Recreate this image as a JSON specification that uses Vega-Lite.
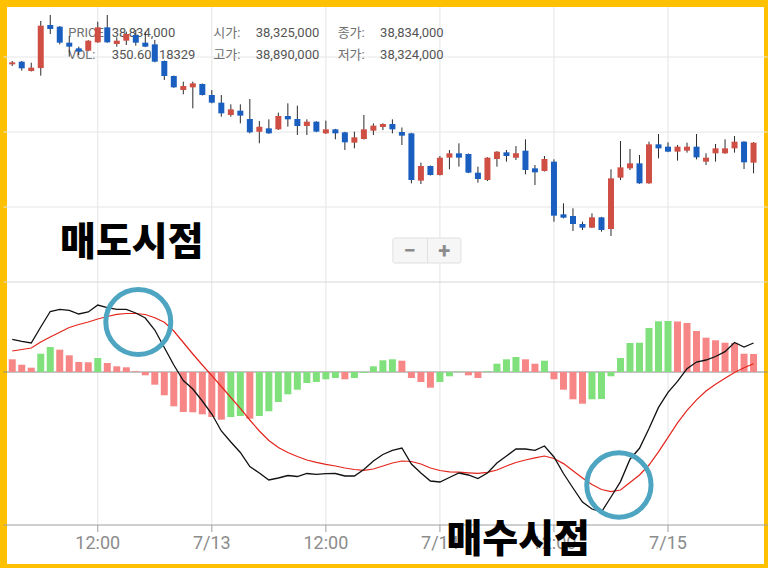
{
"$schema": "https://vega.github.io/schema/vega-lite/v6.json",
"width": 764, "height": 564, "autosize": "none",
"padding": {"left": 3.5, "top": 3.5, "right": 0, "bottom": 0},
"background": "white",
"config": {"view": {"stroke": "#FFC000", "strokeWidth": 7, "fill": "white"}, "font": "Roboto"},
"datasets": {
"vgrid": [{"t":"2021-07-12T12:00","label":"12:00"},{"t":"2021-07-13T00:00","label":"7/13"},{"t":"2021-07-13T12:00","label":"12:00"},{"t":"2021-07-14T00:00","label":"7/14"},{"t":"2021-07-14T12:00","label":"12:00"},{"t":"2021-07-15T00:00","label":"7/15"}],
"hgrid": [{"p":38458000},{"p":37558000},{"p":36658000}],
"hourly": [
{"t":"2021-07-12T03:00","o":38370000,"h":38410000,"l":38350000,"c":38394000,"macd":32700,"signal":21000,"hist":12700},
{"t":"2021-07-12T04:00","o":38402000,"h":38410000,"l":38294000,"c":38322000,"macd":30600,"signal":22500,"hist":7300},
{"t":"2021-07-12T05:00","o":38290000,"h":38390000,"l":38284000,"c":38330000,"macd":29000,"signal":24000,"hist":4300},
{"t":"2021-07-12T06:00","o":38325000,"h":38890000,"l":38234000,"c":38834000,"macd":45000,"signal":30000,"hist":18300},
{"t":"2021-07-12T07:00","o":38842000,"h":38962000,"l":38734000,"c":38794000,"macd":60500,"signal":35000,"hist":25000},
{"t":"2021-07-12T08:00","o":38822000,"h":38830000,"l":38610000,"c":38630000,"macd":62700,"signal":39700,"hist":22300},
{"t":"2021-07-12T09:00","o":38630000,"h":38710000,"l":38462000,"c":38582000,"macd":61700,"signal":44500,"hist":16700},
{"t":"2021-07-12T10:00","o":38562000,"h":38582000,"l":38482000,"c":38522000,"macd":58000,"signal":47500,"hist":10000},
{"t":"2021-07-12T11:00","o":38534000,"h":38660000,"l":38528000,"c":38654000,"macd":60000,"signal":50000,"hist":9700},
{"t":"2021-07-12T12:00","o":38634000,"h":38882000,"l":38628000,"c":38814000,"macd":67000,"signal":53000,"hist":14000},
{"t":"2021-07-12T13:00","o":38814000,"h":38962000,"l":38628000,"c":38634000,"macd":64300,"signal":55500,"hist":9000},
{"t":"2021-07-12T14:00","o":38614000,"h":38694000,"l":38582000,"c":38654000,"macd":62700,"signal":57700,"hist":5700},
{"t":"2021-07-12T15:00","o":38654000,"h":38762000,"l":38602000,"c":38734000,"macd":62700,"signal":58500,"hist":4700},
{"t":"2021-07-12T16:00","o":38722000,"h":38782000,"l":38594000,"c":38630000,"macd":59000,"signal":58500,"hist":700},
{"t":"2021-07-12T17:00","o":38630000,"h":38762000,"l":38576000,"c":38582000,"macd":54000,"signal":57500,"hist":-3300},
{"t":"2021-07-12T18:00","o":38610000,"h":38662000,"l":38394000,"c":38402000,"macd":42000,"signal":54200,"hist":-12700},
{"t":"2021-07-12T19:00","o":38410000,"h":38416000,"l":38182000,"c":38230000,"macd":24500,"signal":49700,"hist":-23300},
{"t":"2021-07-12T20:00","o":38230000,"h":38236000,"l":38088000,"c":38094000,"macd":7000,"signal":41000,"hist":-34300},
{"t":"2021-07-12T21:00","o":38062000,"h":38162000,"l":38010000,"c":38110000,"macd":-8500,"signal":29500,"hist":-40000},
{"t":"2021-07-12T22:00","o":38094000,"h":38162000,"l":37842000,"c":38142000,"macd":-17000,"signal":18000,"hist":-40300},
{"t":"2021-07-12T23:00","o":38134000,"h":38140000,"l":37996000,"c":38002000,"macd":-29000,"signal":7000,"hist":-42300},
{"t":"2021-07-13T00:00","o":38002000,"h":38062000,"l":37902000,"c":37910000,"macd":-42000,"signal":-3700,"hist":-45000},
{"t":"2021-07-13T01:00","o":37910000,"h":38002000,"l":37742000,"c":37782000,"macd":-59000,"signal":-14500,"hist":-47700},
{"t":"2021-07-13T02:00","o":37762000,"h":37890000,"l":37742000,"c":37830000,"macd":-70000,"signal":-25500,"hist":-45000},
{"t":"2021-07-13T03:00","o":37814000,"h":37890000,"l":37662000,"c":37754000,"macd":-80500,"signal":-36300,"hist":-44000},
{"t":"2021-07-13T04:00","o":37714000,"h":37954000,"l":37542000,"c":37554000,"macd":-94500,"signal":-48000,"hist":-46700},
{"t":"2021-07-13T05:00","o":37562000,"h":37690000,"l":37422000,"c":37622000,"macd":-101000,"signal":-59000,"hist":-44000},
{"t":"2021-07-13T06:00","o":37602000,"h":37710000,"l":37536000,"c":37542000,"macd":-108000,"signal":-68500,"hist":-39300},
{"t":"2021-07-13T07:00","o":37590000,"h":37790000,"l":37582000,"c":37750000,"macd":-106000,"signal":-75500,"hist":-30000},
{"t":"2021-07-13T08:00","o":37750000,"h":37902000,"l":37622000,"c":37710000,"macd":-103500,"signal":-80500,"hist":-22300},
{"t":"2021-07-13T09:00","o":37714000,"h":37874000,"l":37522000,"c":37630000,"macd":-104500,"signal":-84500,"hist":-17700},
{"t":"2021-07-13T10:00","o":37630000,"h":37710000,"l":37522000,"c":37682000,"macd":-101500,"signal":-88000,"hist":-11000},
{"t":"2021-07-13T11:00","o":37682000,"h":37688000,"l":37556000,"c":37562000,"macd":-102300,"signal":-90300,"hist":-10000},
{"t":"2021-07-13T12:00","o":37542000,"h":37694000,"l":37536000,"c":37590000,"macd":-101700,"signal":-92300,"hist":-7300},
{"t":"2021-07-13T13:00","o":37590000,"h":37596000,"l":37470000,"c":37542000,"macd":-101500,"signal":-94000,"hist":-6000},
{"t":"2021-07-13T14:00","o":37554000,"h":37560000,"l":37342000,"c":37434000,"macd":-104000,"signal":-96000,"hist":-7300},
{"t":"2021-07-13T15:00","o":37430000,"h":37562000,"l":37362000,"c":37494000,"macd":-104000,"signal":-97500,"hist":-6000},
{"t":"2021-07-13T16:00","o":37474000,"h":37762000,"l":37468000,"c":37590000,"macd":-97500,"signal":-98300,"hist":-1000},
{"t":"2021-07-13T17:00","o":37574000,"h":37662000,"l":37522000,"c":37634000,"macd":-89000,"signal":-97000,"hist":5700},
{"t":"2021-07-13T18:00","o":37618000,"h":37662000,"l":37582000,"c":37654000,"macd":-82500,"signal":-94000,"hist":11700},
{"t":"2021-07-13T19:00","o":37654000,"h":37710000,"l":37542000,"c":37590000,"macd":-78300,"signal":-91000,"hist":12700},
{"t":"2021-07-13T20:00","o":37558000,"h":37612000,"l":37402000,"c":37514000,"macd":-76000,"signal":-89000,"hist":11300},
{"t":"2021-07-13T21:00","o":37542000,"h":37548000,"l":36942000,"c":36982000,"macd":-92000,"signal":-89500,"hist":-6000},
{"t":"2021-07-13T22:00","o":36974000,"h":37190000,"l":36934000,"c":37150000,"macd":-101000,"signal":-92000,"hist":-10000},
{"t":"2021-07-13T23:00","o":37150000,"h":37156000,"l":37036000,"c":37042000,"macd":-109000,"signal":-96000,"hist":-15700},
{"t":"2021-07-14T00:00","o":37042000,"h":37270000,"l":37036000,"c":37250000,"macd":-110000,"signal":-98500,"hist":-10000},
{"t":"2021-07-14T01:00","o":37250000,"h":37342000,"l":37110000,"c":37302000,"macd":-105500,"signal":-99800,"hist":-4300},
{"t":"2021-07-14T02:00","o":37302000,"h":37422000,"l":37142000,"c":37250000,"macd":-101000,"signal":-100200,"hist":500},
{"t":"2021-07-14T03:00","o":37294000,"h":37300000,"l":37064000,"c":37070000,"macd":-103000,"signal":-100800,"hist":-3300},
{"t":"2021-07-14T04:00","o":37070000,"h":37142000,"l":36950000,"c":36994000,"macd":-106500,"signal":-101300,"hist":-6000},
{"t":"2021-07-14T05:00","o":36982000,"h":37256000,"l":36970000,"c":37250000,"macd":-101000,"signal":-100300,"hist":700},
{"t":"2021-07-14T06:00","o":37234000,"h":37328000,"l":37142000,"c":37322000,"macd":-91000,"signal":-98000,"hist":8300},
{"t":"2021-07-14T07:00","o":37314000,"h":37342000,"l":37202000,"c":37270000,"macd":-84000,"signal":-94000,"hist":12700},
{"t":"2021-07-14T08:00","o":37250000,"h":37390000,"l":37222000,"c":37302000,"macd":-77000,"signal":-90500,"hist":15000},
{"t":"2021-07-14T09:00","o":37334000,"h":37470000,"l":37050000,"c":37102000,"macd":-77000,"signal":-88000,"hist":12700},
{"t":"2021-07-14T10:00","o":37122000,"h":37162000,"l":36922000,"c":37074000,"macd":-78300,"signal":-85800,"hist":8300},
{"t":"2021-07-14T11:00","o":37090000,"h":37270000,"l":37084000,"c":37234000,"macd":-74000,"signal":-84000,"hist":11300},
{"t":"2021-07-14T12:00","o":37202000,"h":37230000,"l":36482000,"c":36554000,"macd":-85000,"signal":-86500,"hist":-7300},
{"t":"2021-07-14T13:00","o":36570000,"h":36702000,"l":36522000,"c":36530000,"macd":-101500,"signal":-91600,"hist":-17700},
{"t":"2021-07-14T14:00","o":36550000,"h":36642000,"l":36370000,"c":36454000,"macd":-116000,"signal":-98700,"hist":-27300},
{"t":"2021-07-14T15:00","o":36454000,"h":36482000,"l":36382000,"c":36410000,"macd":-130000,"signal":-106000,"hist":-31700},
{"t":"2021-07-14T16:00","o":36410000,"h":36582000,"l":36404000,"c":36534000,"macd":-137000,"signal":-112500,"hist":-27300},
{"t":"2021-07-14T17:00","o":36534000,"h":36540000,"l":36362000,"c":36382000,"macd":-140000,"signal":-117500,"hist":-27000},
{"t":"2021-07-14T18:00","o":36394000,"h":37110000,"l":36310000,"c":37002000,"macd":-125000,"signal":-119700,"hist":-4300},
{"t":"2021-07-14T19:00","o":37010000,"h":37450000,"l":36982000,"c":37134000,"macd":-109600,"signal":-118000,"hist":14000},
{"t":"2021-07-14T20:00","o":37122000,"h":37354000,"l":37102000,"c":37182000,"macd":-87200,"signal":-110500,"hist":29000},
{"t":"2021-07-14T21:00","o":37182000,"h":37282000,"l":36936000,"c":36942000,"macd":-76300,"signal":-103000,"hist":29300},
{"t":"2021-07-14T22:00","o":36942000,"h":37442000,"l":36936000,"c":37410000,"macd":-56600,"signal":-93000,"hist":44000},
{"t":"2021-07-14T23:00","o":37410000,"h":37534000,"l":37242000,"c":37362000,"macd":-35400,"signal":-79800,"hist":50700},
{"t":"2021-07-15T00:00","o":37382000,"h":37434000,"l":37316000,"c":37322000,"macd":-20300,"signal":-65300,"hist":51000},
{"t":"2021-07-15T01:00","o":37322000,"h":37402000,"l":37214000,"c":37382000,"macd":-9400,"signal":-50800,"hist":50500},
{"t":"2021-07-15T02:00","o":37334000,"h":37430000,"l":37310000,"c":37382000,"macd":3400,"signal":-38300,"hist":49000},
{"t":"2021-07-15T03:00","o":37382000,"h":37534000,"l":37230000,"c":37254000,"macd":10000,"signal":-27800,"hist":41000},
{"t":"2021-07-15T04:00","o":37202000,"h":37302000,"l":37162000,"c":37250000,"macd":12000,"signal":-19000,"hist":34300},
{"t":"2021-07-15T05:00","o":37302000,"h":37414000,"l":37202000,"c":37362000,"macd":15500,"signal":-12300,"hist":31700},
{"t":"2021-07-15T06:00","o":37302000,"h":37470000,"l":37296000,"c":37362000,"macd":20300,"signal":-6300,"hist":29300},
{"t":"2021-07-15T07:00","o":37362000,"h":37510000,"l":37310000,"c":37442000,"macd":29500,"signal":-500,"hist":29000},
{"t":"2021-07-15T08:00","o":37442000,"h":37448000,"l":37114000,"c":37194000,"macd":25000,"signal":4200,"hist":18300},
{"t":"2021-07-15T09:00","o":37190000,"h":37436000,"l":37062000,"c":37430000,"macd":29000,"signal":8300,"hist":18000}
]
},
"resolve": {"scale": {"y": "independent"}},
"layer": [
{"layer": [
 {"data": {"name": "vgrid"}, "mark": {"type": "rule", "color": "#e4e4e4", "strokeWidth": 1},
  "encoding": {
   "x": {"field": "t", "type": "temporal", "scale": {"domain": [{"year":2021,"month":7,"date":12,"hours":2,"minutes":36,"seconds":24},{"year":2021,"month":7,"date":15,"hours":9,"minutes":56,"seconds":30}]}, "axis": null},
   "y": {"datum": 365000, "type": "quantitative", "scale": {"domain": [-153000, 90000], "range": [521.5, 278.5], "zero": false}, "axis": null},
   "y2": {"datum": -153000}}},
 {"data": {"name": "vgrid"}, "mark": {"type": "rule", "color": "#9e9e9e", "strokeWidth": 1},
  "encoding": {
   "x": {"field": "t", "type": "temporal", "scale": {"domain": [{"year":2021,"month":7,"date":12,"hours":2,"minutes":36,"seconds":24},{"year":2021,"month":7,"date":15,"hours":9,"minutes":56,"seconds":30}]}, "axis": null},
   "y": {"datum": -153000, "type": "quantitative", "scale": {"domain": [-153000, 90000], "range": [521.5, 278.5], "zero": false}, "axis": null},
   "y2": {"datum": -160000}}},
 {"data": {"name": "vgrid"}, "mark": {"type": "text", "align": "center", "baseline": "top", "font": "Liberation Sans Narrow, Roboto", "fontSize": 18, "color": "#8c8c8c"},
  "encoding": {
   "x": {"field": "t", "type": "temporal", "scale": {"domain": [{"year":2021,"month":7,"date":12,"hours":2,"minutes":36,"seconds":24},{"year":2021,"month":7,"date":15,"hours":9,"minutes":56,"seconds":30}]}, "axis": null},
   "y": {"datum": -163400, "type": "quantitative", "scale": {"domain": [-153000, 90000], "range": [521.5, 278.5], "zero": false}, "axis": null},
   "text": {"field": "label", "type": "nominal"}}},
 {"data": {"values": [{}]}, "mark": {"type": "rule", "color": "#9e9e9e"},
  "encoding": {"y": {"datum": -153000, "type": "quantitative", "scale": {"domain": [-153000, 90000], "range": [521.5, 278.5], "zero": false}, "axis": null}}},
 {"data": {"values": [{}]}, "mark": {"type": "rule", "color": "#d6d6d6"},
  "encoding": {"y": {"datum": 90000, "type": "quantitative", "scale": {"domain": [-153000, 90000], "range": [521.5, 278.5], "zero": false}, "axis": null}}},
 {"data": {"values": [{}]}, "mark": {"type": "rule", "color": "#8a8a8a"},
  "encoding": {"y": {"datum": 0, "type": "quantitative", "scale": {"domain": [-153000, 90000], "range": [521.5, 278.5], "zero": false}, "axis": null}}},
 {"data": {"name": "hourly"},
  "transform": [{"window": [{"op": "lag", "field": "hist", "as": "prev"}], "sort": [{"field": "t"}]}],
  "mark": {"type": "bar", "size": 7},
  "encoding": {
   "x": {"field": "t", "type": "temporal", "scale": {"domain": [{"year":2021,"month":7,"date":12,"hours":2,"minutes":36,"seconds":24},{"year":2021,"month":7,"date":15,"hours":9,"minutes":56,"seconds":30}]}, "axis": null},
   "y": {"field": "hist", "type": "quantitative", "scale": {"domain": [-153000, 90000], "range": [521.5, 278.5], "zero": false}, "axis": null},
   "y2": {"datum": 0},
   "color": {"condition": {"test": "datum.prev != null && datum.hist >= datum.prev", "value": "#80e07c"}, "value": "#f78787"}}},
 {"data": {"name": "hourly"}, "mark": {"type": "line", "color": "#e3251c", "strokeWidth": 1.2},
  "encoding": {
   "x": {"field": "t", "type": "temporal", "scale": {"domain": [{"year":2021,"month":7,"date":12,"hours":2,"minutes":36,"seconds":24},{"year":2021,"month":7,"date":15,"hours":9,"minutes":56,"seconds":30}]}, "axis": null},
   "y": {"field": "signal", "type": "quantitative", "scale": {"domain": [-153000, 90000], "range": [521.5, 278.5], "zero": false}, "axis": null}}},
 {"data": {"name": "hourly"}, "mark": {"type": "line", "color": "#111111", "strokeWidth": 1.3},
  "encoding": {
   "x": {"field": "t", "type": "temporal", "scale": {"domain": [{"year":2021,"month":7,"date":12,"hours":2,"minutes":36,"seconds":24},{"year":2021,"month":7,"date":15,"hours":9,"minutes":56,"seconds":30}]}, "axis": null},
   "y": {"field": "macd", "type": "quantitative", "scale": {"domain": [-153000, 90000], "range": [521.5, 278.5], "zero": false}, "axis": null}}},
 {"data": {"values": [{}]}, "mark": {"type": "point", "shape": "circle", "filled": false, "size": 4225, "strokeWidth": 5, "color": "#4ea5c2", "opacity": 1},
  "encoding": {
   "x": {"datum": {"year":2021,"month":7,"date":12,"hours":16,"minutes":15,"seconds":43}, "type": "temporal", "scale": {"domain": [{"year":2021,"month":7,"date":12,"hours":2,"minutes":36,"seconds":24},{"year":2021,"month":7,"date":15,"hours":9,"minutes":56,"seconds":30}]}, "axis": null},
   "y": {"datum": 50000, "type": "quantitative", "scale": {"domain": [-153000, 90000], "range": [521.5, 278.5], "zero": false}, "axis": null}}},
 {"data": {"values": [{}]}, "mark": {"type": "point", "shape": "circle", "filled": false, "size": 4134, "strokeWidth": 5, "color": "#4ea5c2", "opacity": 1},
  "encoding": {
   "x": {"datum": {"year":2021,"month":7,"date":14,"hours":18,"minutes":50}, "type": "temporal", "scale": {"domain": [{"year":2021,"month":7,"date":12,"hours":2,"minutes":36,"seconds":24},{"year":2021,"month":7,"date":15,"hours":9,"minutes":56,"seconds":30}]}, "axis": null},
   "y": {"datum": -113000, "type": "quantitative", "scale": {"domain": [-153000, 90000], "range": [521.5, 278.5], "zero": false}, "axis": null}}},
 {"data": {"values": [{}]}, "mark": {"type": "text", "text": "매수시점", "font": "Noto Sans CJK KR", "fontSize": 39, "fontWeight": 900, "color": "#000000", "align": "center", "baseline": "middle"},
  "encoding": {
   "x": {"datum": {"year":2021,"month":7,"date":14,"hours":8,"minutes":14,"seconds":28}, "type": "temporal", "scale": {"domain": [{"year":2021,"month":7,"date":12,"hours":2,"minutes":36,"seconds":24},{"year":2021,"month":7,"date":15,"hours":9,"minutes":56,"seconds":30}]}, "axis": null},
   "y": {"datum": -168300, "type": "quantitative", "scale": {"domain": [-153000, 90000], "range": [521.5, 278.5], "zero": false}, "axis": null}}}
]},
{"layer": [
 {"data": {"name": "hgrid"}, "mark": {"type": "rule", "color": "#e6e6e6", "strokeWidth": 1},
  "encoding": {
   "y": {"field": "p", "type": "quantitative", "scale": {"domain": [35758000, 39100000], "range": [278.5, 0], "zero": false}, "axis": null}}},
 {"data": {"values": [{}]}, "mark": {"type": "text", "text": ["PRICE", "VOL:"], "align": "left", "baseline": "top", "lineHeight": 22, "fontSize": 13, "font": "Roboto, Noto Sans CJK KR", "color": "#707070"},
  "encoding": {
   "x": {"datum": {"year":2021,"month":7,"date":12,"hours":8,"minutes":53,"seconds":20}, "type": "temporal", "scale": {"domain": [{"year":2021,"month":7,"date":12,"hours":2,"minutes":36,"seconds":24},{"year":2021,"month":7,"date":15,"hours":9,"minutes":56,"seconds":30}]}, "axis": null},
   "y": {"datum": 38814000, "type": "quantitative", "scale": {"domain": [35758000, 39100000], "range": [278.5, 0], "zero": false}, "axis": null}}},
 {"data": {"values": [{}]}, "mark": {"type": "text", "text": ["38,834,000", "350.60118329"], "align": "left", "baseline": "top", "lineHeight": 22, "fontSize": 13, "font": "Roboto, Noto Sans CJK KR", "color": "#555555"},
  "encoding": {
   "x": {"datum": {"year":2021,"month":7,"date":12,"hours":13,"minutes":27,"seconds":30}, "type": "temporal", "scale": {"domain": [{"year":2021,"month":7,"date":12,"hours":2,"minutes":36,"seconds":24},{"year":2021,"month":7,"date":15,"hours":9,"minutes":56,"seconds":30}]}, "axis": null},
   "y": {"datum": 38814000, "type": "quantitative", "scale": {"domain": [35758000, 39100000], "range": [278.5, 0], "zero": false}, "axis": null}}},
 {"data": {"values": [{}]}, "mark": {"type": "text", "text": ["시가:", "고가:"], "align": "left", "baseline": "top", "lineHeight": 22, "fontSize": 13, "font": "Roboto, Noto Sans CJK KR", "color": "#707070"},
  "encoding": {
   "x": {"datum": {"year":2021,"month":7,"date":13,"hours":0,"minutes":9,"seconds":14}, "type": "temporal", "scale": {"domain": [{"year":2021,"month":7,"date":12,"hours":2,"minutes":36,"seconds":24},{"year":2021,"month":7,"date":15,"hours":9,"minutes":56,"seconds":30}]}, "axis": null},
   "y": {"datum": 38814000, "type": "quantitative", "scale": {"domain": [35758000, 39100000], "range": [278.5, 0], "zero": false}, "axis": null}}},
 {"data": {"values": [{}]}, "mark": {"type": "text", "text": ["38,325,000", "38,890,000"], "align": "left", "baseline": "top", "lineHeight": 22, "fontSize": 13, "font": "Roboto, Noto Sans CJK KR", "color": "#555555"},
  "encoding": {
   "x": {"datum": {"year":2021,"month":7,"date":13,"hours":4,"minutes":37,"seconds":8}, "type": "temporal", "scale": {"domain": [{"year":2021,"month":7,"date":12,"hours":2,"minutes":36,"seconds":24},{"year":2021,"month":7,"date":15,"hours":9,"minutes":56,"seconds":30}]}, "axis": null},
   "y": {"datum": 38814000, "type": "quantitative", "scale": {"domain": [35758000, 39100000], "range": [278.5, 0], "zero": false}, "axis": null}}},
 {"data": {"values": [{}]}, "mark": {"type": "text", "text": ["종가:", "저가:"], "align": "left", "baseline": "top", "lineHeight": 22, "fontSize": 13, "font": "Roboto, Noto Sans CJK KR", "color": "#707070"},
  "encoding": {
   "x": {"datum": {"year":2021,"month":7,"date":13,"hours":13,"minutes":14,"seconds":17}, "type": "temporal", "scale": {"domain": [{"year":2021,"month":7,"date":12,"hours":2,"minutes":36,"seconds":24},{"year":2021,"month":7,"date":15,"hours":9,"minutes":56,"seconds":30}]}, "axis": null},
   "y": {"datum": 38814000, "type": "quantitative", "scale": {"domain": [35758000, 39100000], "range": [278.5, 0], "zero": false}, "axis": null}}},
 {"data": {"values": [{}]}, "mark": {"type": "text", "text": ["38,834,000", "38,324,000"], "align": "left", "baseline": "top", "lineHeight": 22, "fontSize": 13, "font": "Roboto, Noto Sans CJK KR", "color": "#555555"},
  "encoding": {
   "x": {"datum": {"year":2021,"month":7,"date":13,"hours":17,"minutes":42,"seconds":11}, "type": "temporal", "scale": {"domain": [{"year":2021,"month":7,"date":12,"hours":2,"minutes":36,"seconds":24},{"year":2021,"month":7,"date":15,"hours":9,"minutes":56,"seconds":30}]}, "axis": null},
   "y": {"datum": 38814000, "type": "quantitative", "scale": {"domain": [35758000, 39100000], "range": [278.5, 0], "zero": false}, "axis": null}}},
 {"data": {"name": "hourly"}, "mark": {"type": "rule", "color": "#2b2b2b", "strokeWidth": 1},
  "encoding": {
   "x": {"field": "t", "type": "temporal", "scale": {"domain": [{"year":2021,"month":7,"date":12,"hours":2,"minutes":36,"seconds":24},{"year":2021,"month":7,"date":15,"hours":9,"minutes":56,"seconds":30}]}, "axis": null},
   "y": {"field": "l", "type": "quantitative", "scale": {"domain": [35758000, 39100000], "range": [278.5, 0], "zero": false}, "axis": null},
   "y2": {"field": "h"}}},
 {"data": {"name": "hourly"}, "mark": {"type": "bar", "size": 6},
  "encoding": {
   "x": {"field": "t", "type": "temporal", "scale": {"domain": [{"year":2021,"month":7,"date":12,"hours":2,"minutes":36,"seconds":24},{"year":2021,"month":7,"date":15,"hours":9,"minutes":56,"seconds":30}]}, "axis": null},
   "y": {"field": "o", "type": "quantitative", "scale": {"domain": [35758000, 39100000], "range": [278.5, 0], "zero": false}, "axis": null},
   "y2": {"field": "c"},
   "color": {"condition": {"test": "datum.c >= datum.o", "value": "#d04f45"}, "value": "#1a5fc0"}}},
 {"data": {"values": [{}]}, "mark": {"type": "text", "text": "매도시점", "font": "Noto Sans CJK KR", "fontSize": 39, "fontWeight": 900, "color": "#000000", "align": "center", "baseline": "middle"},
  "encoding": {
   "x": {"datum": {"year":2021,"month":7,"date":12,"hours":15,"minutes":35,"seconds":12}, "type": "temporal", "scale": {"domain": [{"year":2021,"month":7,"date":12,"hours":2,"minutes":36,"seconds":24},{"year":2021,"month":7,"date":15,"hours":9,"minutes":56,"seconds":30}]}, "axis": null},
   "y": {"datum": 36230000, "type": "quantitative", "scale": {"domain": [35758000, 39100000], "range": [278.5, 0], "zero": false}, "axis": null}}},
 {"data": {"values": [{}]}, "mark": {"type": "rect", "fill": "#f6f6f6", "stroke": "#e0e0e0", "strokeWidth": 1, "cornerRadius": 2},
  "encoding": {
   "x": {"datum": {"year":2021,"month":7,"date":13,"hours":19,"minutes":3,"seconds":11}, "type": "temporal", "scale": {"domain": [{"year":2021,"month":7,"date":12,"hours":2,"minutes":36,"seconds":24},{"year":2021,"month":7,"date":15,"hours":9,"minutes":56,"seconds":30}]}, "axis": null},
   "x2": {"datum": {"year":2021,"month":7,"date":14,"hours":2,"minutes":13,"seconds":5}},
   "y": {"datum": 36286000, "type": "quantitative", "scale": {"domain": [35758000, 39100000], "range": [278.5, 0], "zero": false}, "axis": null},
   "y2": {"datum": 35986000}}},
 {"data": {"values": [{}]}, "mark": {"type": "rule", "color": "#e0e0e0"},
  "encoding": {
   "x": {"datum": {"year":2021,"month":7,"date":13,"hours":22,"minutes":41,"seconds":13}, "type": "temporal", "scale": {"domain": [{"year":2021,"month":7,"date":12,"hours":2,"minutes":36,"seconds":24},{"year":2021,"month":7,"date":15,"hours":9,"minutes":56,"seconds":30}]}, "axis": null},
   "y": {"datum": 36286000, "type": "quantitative", "scale": {"domain": [35758000, 39100000], "range": [278.5, 0], "zero": false}, "axis": null},
   "y2": {"datum": 35986000}}},
 {"data": {"values": [{}]}, "mark": {"type": "text", "text": "−", "font": "Roboto", "fontSize": 22, "fontWeight": "bold", "color": "#8c8c8c", "align": "center", "baseline": "middle"},
  "encoding": {
   "x": {"datum": {"year":2021,"month":7,"date":13,"hours":20,"minutes":49,"seconds":5}, "type": "temporal", "scale": {"domain": [{"year":2021,"month":7,"date":12,"hours":2,"minutes":36,"seconds":24},{"year":2021,"month":7,"date":15,"hours":9,"minutes":56,"seconds":30}]}, "axis": null},
   "y": {"datum": 36128000, "type": "quantitative", "scale": {"domain": [35758000, 39100000], "range": [278.5, 0], "zero": false}, "axis": null}}},
 {"data": {"values": [{}]}, "mark": {"type": "text", "text": "+", "font": "Roboto", "fontSize": 22, "fontWeight": "bold", "color": "#8c8c8c", "align": "center", "baseline": "middle"},
  "encoding": {
   "x": {"datum": {"year":2021,"month":7,"date":14,"hours":0,"minutes":27,"seconds":11}, "type": "temporal", "scale": {"domain": [{"year":2021,"month":7,"date":12,"hours":2,"minutes":36,"seconds":24},{"year":2021,"month":7,"date":15,"hours":9,"minutes":56,"seconds":30}]}, "axis": null},
   "y": {"datum": 36128000, "type": "quantitative", "scale": {"domain": [35758000, 39100000], "range": [278.5, 0], "zero": false}, "axis": null}}}
]}
]
}
